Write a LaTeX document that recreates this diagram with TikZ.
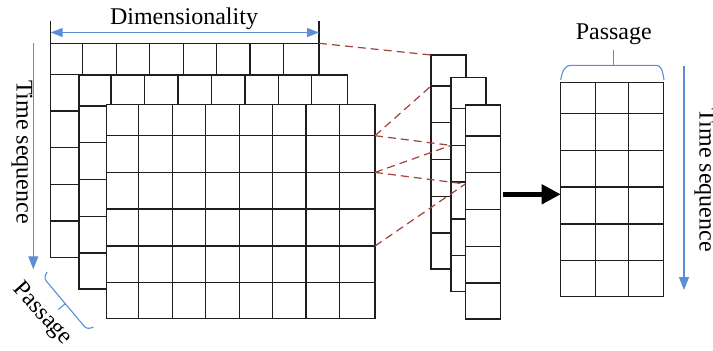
\documentclass[tikz,border=0pt]{standalone}
\usepackage{fontspec}
\setmainfont{Liberation Serif}
\usetikzlibrary{arrows.meta}

\definecolor{axisblue}{HTML}{5B8ED6}
\definecolor{linkred}{HTML}{A0413B}
\definecolor{gridink}{HTML}{1E1E1E}

% row offsets shared by every slab, strip and output grid
\def\rowlist{0,31,67.7,104.3,141.3,177.8,214}

\tikzset{
  gridline/.style={draw=gridink, line width=1.4pt},
  linkline/.style={draw=linkred, line width=1.2pt, dash pattern=on 8pt off 5pt},
  axisline/.style={draw=axisblue, line width=1.2pt},
  axishead/.style={-{Triangle[length=13pt,width=10pt]}},
  bracepath/.style={draw=axisblue, line width=1.1pt},
  lbl/.style={font=\fontsize{24pt}{28pt}\selectfont, inner sep=0pt},
  % one full feature map: 8 columns x 6 rows
  pics/slab/.style={code={
    \fill[white] (0,0) rectangle (268.3,214);
    \foreach \c in {32,65.5,99,132.6,166,199.3,232.6}
      \draw[gridline] (\c,0) -- (\c,214);
    \foreach \r [count=\i from 0] in \rowlist {
      \draw[gridline] (0,\r) -- (268.3,\r);
      \coordinate (-e\i) at (268.3,\r);
    }
    \draw[gridline] (0,0) rectangle (268.3,214);
    \coordinate (-nw) at (0,0);
    \coordinate (-ne) at (268.3,0);
  }},
  % one pooled column: 1 column x 6 rows
  pics/strip/.style={code={
    \fill[white] (0,0) rectangle (35,214);
    \foreach \r [count=\i from 0] in \rowlist {
      \draw[gridline] (0,\r) -- (35,\r);
      \coordinate (-w\i) at (0,\r);
    }
    \draw[gridline] (0,0) rectangle (35,214);
  }},
  % passage matrix: 3 columns x 6 rows
  pics/passgrid/.style={code={
    \fill[white] (0,0) rectangle (102.6,214);
    \foreach \c in {35,68}
      \draw[gridline] (\c,0) -- (\c,214);
    \foreach \r in \rowlist
      \draw[gridline] (0,\r) -- (102.6,\r);
    \draw[gridline] (0,0) rectangle (102.6,214);
  }},
}

\begin{document}
\begin{tikzpicture}[x=1pt, y=-1pt]
\useasboundingbox (0,0) rectangle (713,351);

% stacked feature maps
\pic (L1) at (50.7,43.3) {slab};
\pic (L2) at (79,75) {slab};
\pic (L3) at (106.7,104.7) {slab};

% pooled columns
\pic (CA) at (431,55) {strip};
\pic (CB) at (451,77.7) {strip};
\pic (CC) at (465.3,105) {strip};

% passage matrix
\pic (P) at (560.7,82.7) {passgrid};

% anchor points for connectors
\coordinate (ccJoin) at (465.3,184);
\coordinate (stackOut) at (503.3,194.3);
\coordinate (passIn) at (560.7,194.3);
\coordinate (dimTickL) at (50.7,20.7);
\coordinate (dimTickR) at (319,20.7);
\coordinate (dimArrL) at (50.7,32.5);
\coordinate (dimArrR) at (319,32.5);
\coordinate (timeLtop) at (33.3,43.3);
\coordinate (timeLbot) at (33.3,269.3);
\coordinate (timeRtop) at (684,65.7);
\coordinate (timeRbot) at (684,290);

% dashed links from the maps to the pooled columns
\draw[linkline] (L1-ne) -- (CA-w0);
\draw[linkline] (L3-e1) -- (CA-w1);
\draw[linkline] (L3-e1) -- (CB-w2);
\draw[linkline] (L3-e2) -- (CB-w2);
\draw[linkline] (L3-e2) -- (ccJoin);
\draw[linkline] (L3-e4) -- (ccJoin);

% pooled columns -> passage matrix
\draw[line width=4.5pt, -{Triangle[length=19pt,width=19pt]}] (stackOut) -- (passIn);

% dimensionality extent
\draw[gridline] (dimTickL) -- (L1-nw);
\draw[gridline] (dimTickR) -- (L1-ne);
\draw[axisline, {Triangle[length=12pt,width=9pt]}-{Triangle[length=12pt,width=9pt]}] (dimArrL) -- (dimArrR);
\node[lbl, anchor=base] (dimLabel) at (184,24) {Dimensionality};

% time axes
\draw[axisline, axishead] (timeLtop) -- (timeLbot);
\node[lbl, anchor=base, rotate=-90] (timeLabelL) at (16.5,152) {Time sequence};
\draw[axisline, axishead] (timeRtop) -- (timeRbot);
\node[lbl, anchor=base, rotate=-90] (timeLabelR) at (699.5,180) {Time sequence};

% passage brace above the matrix
\draw[bracepath] (560.7,80) .. controls (562.5,71) and (564,65.3) .. (572,65.3)
  -- (655,65.3) .. controls (662,65.3) and (662.5,71) .. (664,80);
\draw[bracepath] (613.3,65.3) -- (613.3,50);
\node[lbl, anchor=base] (passLabelR) at (613.8,39) {Passage};

% passage brace along the depth of the stack
\begin{scope}[shift={(65.3,303.7)}, rotate=130]
  \draw[bracepath] (36,6.5) .. controls (34.5,2.5) and (33.5,0) .. (29,0)
    -- (-29,0) .. controls (-33.5,0) and (-34.5,2.5) .. (-36,6.5);
  \draw[bracepath] (0,0) -- (0,-9);
\end{scope}
\node[lbl, rotate=-48] (passLabelL) at (42,314) {Passage};
\end{tikzpicture}
\end{document}
